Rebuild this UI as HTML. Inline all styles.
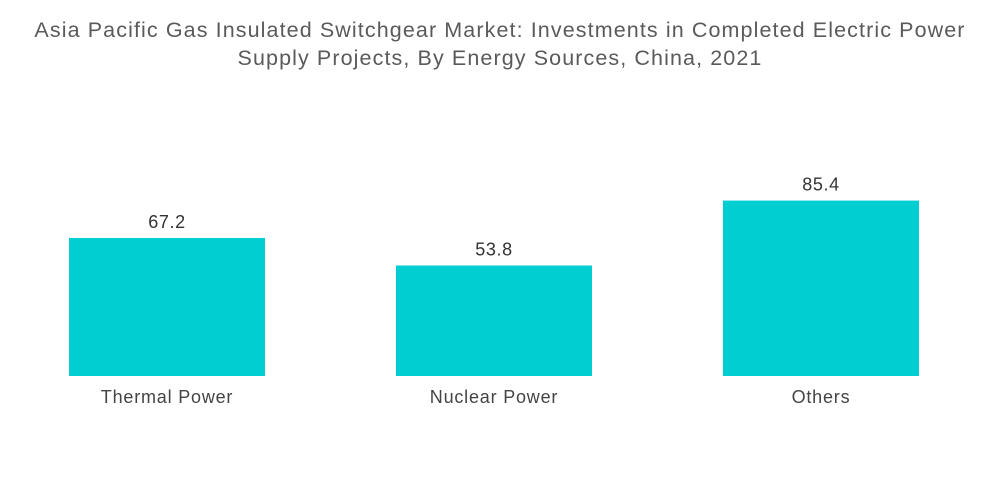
<!DOCTYPE html>
<html><head><meta charset="utf-8"><style>
body{margin:0;background:#fff;font-family:"Liberation Sans",sans-serif;}
#wrap{position:relative;width:1000px;height:504px;overflow:hidden;}
#title{position:absolute;left:0;top:16px;width:1000px;text-align:center;font-size:21.5px;letter-spacing:1.1px;line-height:28px;color:#5a5a5a;}
</style></head><body>
<div id="wrap">
<div id="title">Asia Pacific Gas Insulated Switchgear Market: Investments in Completed Electric Power<br>Supply Projects, By Energy Sources, China, 2021</div>
<svg id="chart" width="1000" height="504" style="position:absolute;left:0;top:0"></svg>
</div>
<script>
const categories=["Thermal Power","Nuclear Power","Others"];
const values=[67.2,53.8,85.4];
const labels=["67.2","53.8","85.4"];
const svg=document.getElementById('chart');
const NS='http://www.w3.org/2000/svg';
const baseY=376, pxPerUnit=2.054;
const y=v=>baseY-v*pxPerUnit;
const x0=69, step=327, bw=196;
const x=i=>x0+i*step;
categories.forEach((c,i)=>{
  const r=document.createElementNS(NS,'rect');
  r.setAttribute('x',x(i));r.setAttribute('y',y(values[i]));
  r.setAttribute('width',bw);r.setAttribute('height',baseY-y(values[i]));
  r.setAttribute('fill','#00CED1');
  
  
  svg.appendChild(r);
  const t=document.createElementNS(NS,'text');
  t.setAttribute('x',x(i)+bw/2);t.setAttribute('y',y(values[i])-10);
  t.setAttribute('text-anchor','middle');t.setAttribute('font-size','18');
  t.setAttribute('letter-spacing','0.6');
  t.setAttribute('fill','#333');t.setAttribute('font-family','Liberation Sans, sans-serif');
  t.textContent=labels[i];
  
  
  svg.appendChild(t);
  const l=document.createElementNS(NS,'text');
  l.setAttribute('x',x(i)+bw/2);l.setAttribute('y',baseY+27);
  l.setAttribute('text-anchor','middle');l.setAttribute('font-size','18');
  l.setAttribute('letter-spacing','0.8');
  l.setAttribute('fill','#444');l.setAttribute('font-family','Liberation Sans, sans-serif');
  l.textContent=c;
  
  
  svg.appendChild(l);
});
</script>
</body></html>
